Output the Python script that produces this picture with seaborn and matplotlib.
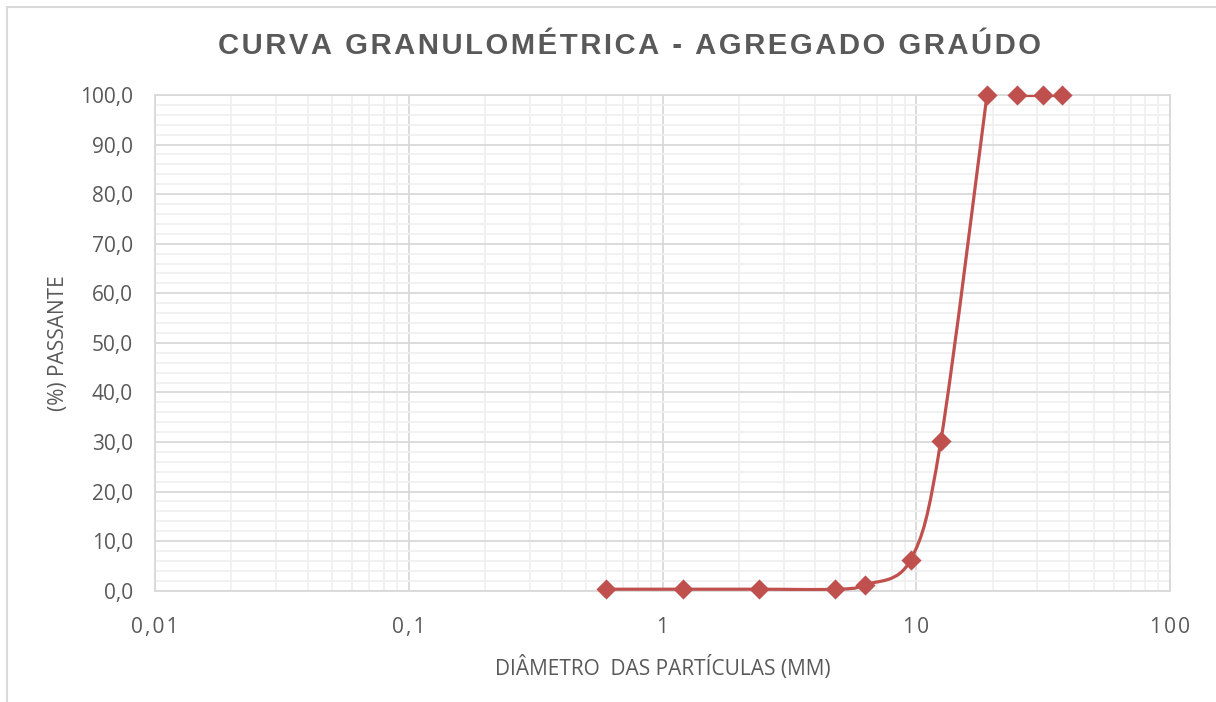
import numpy as np
import pandas as pd
import matplotlib
matplotlib.use('Agg')
import matplotlib.pyplot as plt
from matplotlib.path import Path
from matplotlib.patches import PathPatch, Rectangle
from matplotlib.ticker import FixedLocator, LogLocator, MultipleLocator, NullFormatter
import seaborn as sns

# Sieve openings (mm) and % passing
sieve_mm = [0.6, 1.2, 2.4, 4.8, 6.3, 9.5, 12.5, 19.0, 25.0, 31.5, 37.5]
passing = [0.3, 0.3, 0.3, 0.3, 1.2, 6.2, 30.2, 100.0, 100.0, 100.0, 100.0]
# the smoothed curve runs up to 19 mm, the last three points are a separate segment
curve_end = 8

x_ticks = [0.01, 0.1, 1, 10, 100]
x_tick_labels = ['0,01', '0,1', '1', '10', '100']
y_ticks = list(range(0, 101, 10))

RED = '#C0504D'
GREY = '#595959'
HS = '\u200a'  # hair space, used for the letter spacing

sns.set_theme(style='white')
plt.rcParams['font.family'] = ['Open Sans', 'DejaVu Sans']

df = pd.DataFrame({'diametro': sieve_mm, 'passante': passing})

fig = plt.figure(figsize=(12.16, 7.02), dpi=100)
ax = fig.add_axes([155 / 1216, 1 - 590.7 / 702, (1170 - 155) / 1216, (590.7 - 95) / 702])
ax.set_xscale('log')
ax.set_xlim(0.01, 100)
ax.set_ylim(0, 100)


def smooth_path(xs, ys, t=1 / 6):
    # Excel style smoothed line: cubic bezier segments, worked out in log-x space
    lx = np.log10(xs)
    pts = np.column_stack([lx, ys])
    n = len(pts)
    verts = [pts[0]]
    codes = [Path.MOVETO]
    for i in range(n - 1):
        p0 = pts[max(i - 1, 0)]
        p1 = pts[i]
        p2 = pts[i + 1]
        p3 = pts[min(i + 2, n - 1)]
        c1 = p1 + (p2 - p0) * t
        c2 = p2 - (p3 - p1) * t
        verts += [c1, c2, p2]
        codes += [Path.CURVE4] * 3
    verts = np.array(verts)
    verts[:, 0] = 10 ** verts[:, 0]
    return Path(verts, codes)


ax.add_patch(PathPatch(smooth_path(sieve_mm[:curve_end], passing[:curve_end]),
                       fill=False, edgecolor=RED, lw=2.3, capstyle='round', zorder=3))
sns.lineplot(data=df.iloc[curve_end:], x='diametro', y='passante', color=RED,
             lw=2.3, ax=ax, zorder=3)
sns.scatterplot(data=df, x='diametro', y='passante', marker='D', s=105, color=RED,
                edgecolor=RED, linewidth=0, ax=ax, zorder=4, clip_on=False)

# grid
ax.xaxis.set_major_locator(FixedLocator(x_ticks))
ax.xaxis.set_minor_locator(LogLocator(base=10, subs=np.arange(2, 10)))
ax.xaxis.set_minor_formatter(NullFormatter())
ax.yaxis.set_major_locator(FixedLocator(y_ticks))
ax.yaxis.set_minor_locator(MultipleLocator(2))
ax.grid(which='major', color='#D9D9D9', lw=1.3)
ax.grid(which='minor', color='#F0F0F0', lw=1.3)
ax.set_axisbelow(True)
for sp in ax.spines.values():
    sp.set_color('#D9D9D9')
    sp.set_linewidth(1.3)

ax.set_xticklabels([HS.join(lbl) for lbl in x_tick_labels])
ax.set_yticklabels([f'{v:.1f}'.replace('.', ',') for v in y_ticks])
ax.tick_params(axis='both', which='both', length=0, colors=GREY, labelsize=15)
ax.tick_params(axis='y', pad=16)
ax.tick_params(axis='x', pad=19)

ax.set_xlabel('DIÂMETRO  DAS PARTÍCULAS (MM)', fontsize=15, color=GREY, labelpad=13)
ax.set_ylabel('(%) PASSANTE', fontsize=15, color=GREY, labelpad=8)

title = 'CURVA GRANULOMÉTRICA - AGREGADO GRAÚDO'
fig.text(629 / 1216, 1 - 46 / 702, HS.join(title), ha='center', va='center',
         fontsize=21.1, fontweight='bold', color=GREY,
         family=['Liberation Sans', 'DejaVu Sans'])

# outer chart border (only top and left are inside the picture)
fig.add_artist(Rectangle((7 / 1216, -0.1), 1.2, 1.1 - 7 / 702, transform=fig.transFigure,
                         fill=False, edgecolor='#D9D9D9', lw=1.5))

fig.savefig('out.png', dpi=100)
